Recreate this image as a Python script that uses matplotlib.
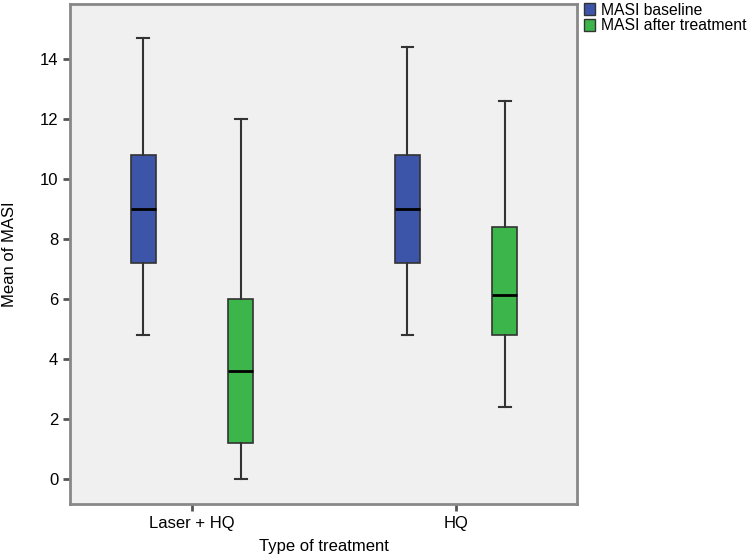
import matplotlib.pyplot as plt
from matplotlib.patches import Rectangle

plt.rcParams['font.family'] = ['Liberation Sans', 'DejaVu Sans']

groups = ['Laser + HQ', 'HQ']
series = ['MASI baseline', 'MASI after treatment']
colors = ['#3d55a9', '#3cb54a']

# (whislo, q1, med, q3, whishi) per group, per series
baseline = [(4.8, 7.2, 9.0, 10.8, 14.7), (4.8, 7.2, 9.0, 10.8, 14.4)]
after = [(0.0, 1.2, 3.6, 6.0, 12.0), (2.4, 4.8, 6.15, 8.4, 12.6)]

fig = plt.figure(figsize=(7.54, 5.56), dpi=100)
ax = fig.add_axes([70/754, 1-504/556, 507/754, 500/556])
ax.set_facecolor('#f0f0f0')

offset = 0.184
for k, (data, col) in enumerate(zip([baseline, after], colors)):
    stats = []
    for lo, q1, med, q3, hi in data:
        stats.append(dict(whislo=lo, q1=q1, med=med, q3=q3, whishi=hi))
    pos = [i + (offset if k else -offset) for i in range(len(groups))]
    ax.bxp(stats, positions=pos, widths=0.095, showfliers=False,
           patch_artist=True, manage_ticks=False,
           boxprops=dict(facecolor=col, edgecolor='#333333', linewidth=1.2),
           medianprops=dict(color='black', linewidth=2),
           whiskerprops=dict(color='#333333', linewidth=1.5),
           capprops=dict(color='#333333', linewidth=1.5), capwidths=0.045)

ax.set_xlim(-0.462, 1.458)
ax.set_ylim(-0.83, 15.83)
ax.set_xticks(range(len(groups)))
ax.set_xticklabels(groups)
ax.set_yticks(range(0, 15, 2))
ax.tick_params(labelsize=12, color='#555555', width=2, length=5)
for s in ax.spines.values():
    s.set_color('#888888')
    s.set_linewidth(2)
ax.set_xlabel('Type of treatment', fontsize=12, labelpad=6)
ax.set_ylabel('Mean of MASI', fontsize=12, labelpad=16)

handles = [Rectangle((0, 0), 1, 1, facecolor=c, edgecolor='#333333') for c in colors]
fig.legend(handles, series, loc='upper left', bbox_to_anchor=(582/754, 0.998),
           frameon=False, fontsize=11.3, handlelength=0.75, handleheight=0.75,
           handletextpad=0.35, labelspacing=0.05, borderaxespad=0, borderpad=0.1)

fig.savefig('out.png', dpi=100)
